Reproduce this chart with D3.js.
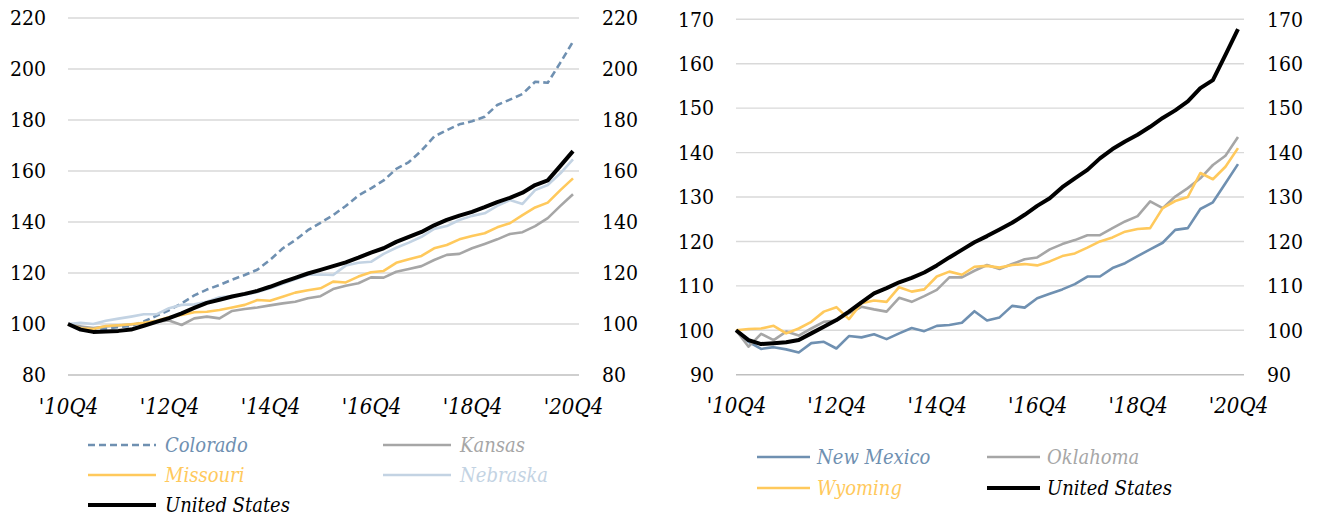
<!DOCTYPE html>
<html>
<head>
<meta charset="utf-8">
<script src="https://cdn.jsdelivr.net/npm/d3@7"></script>
<style>
  html, body { margin: 0; background: #fff; }
  svg { display: block; }
  svg text { font-family: 'DejaVu Serif Condensed', 'DejaVu Serif', serif; font-stretch: condensed; }
</style>
</head>
<body>
<div id="chart"></div>
<script>
// Quarterly index, 2010Q4 = 100

const quarters = [
  '2010Q4',
  '2011Q1', '2011Q2', '2011Q3', '2011Q4',
  '2012Q1', '2012Q2', '2012Q3', '2012Q4',
  '2013Q1', '2013Q2', '2013Q3', '2013Q4',
  '2014Q1', '2014Q2', '2014Q3', '2014Q4',
  '2015Q1', '2015Q2', '2015Q3', '2015Q4',
  '2016Q1', '2016Q2', '2016Q3', '2016Q4',
  '2017Q1', '2017Q2', '2017Q3', '2017Q4',
  '2018Q1', '2018Q2', '2018Q3', '2018Q4',
  '2019Q1', '2019Q2', '2019Q3', '2019Q4',
  '2020Q1', '2020Q2', '2020Q3', '2020Q4'
];
const tickQuarters = ['2010Q4', '2012Q4', '2014Q4', '2016Q4', '2018Q4', '2020Q4'];
const tickLabels   = ["'10Q4", "'12Q4", "'14Q4", "'16Q4", "'18Q4", "'20Q4"];

const leftTicks  = [80, 100, 120, 140, 160, 180, 200, 220];
const rightTicks = [90, 100, 110, 120, 130, 140, 150, 160, 170];

const unitedStates = [100, 97.8, 96.9, 97.1, 97.3, 97.8, 99.3, 100.8, 102.3, 104.2, 106.3, 108.3, 109.5,
  110.8, 111.8, 113.0, 114.6, 116.4, 118.1, 119.8, 121.2, 122.7, 124.2, 126.0, 128.0, 129.7, 132.2,
  134.2, 136.1, 138.7, 140.8, 142.5, 144.0, 145.8, 147.8, 149.5, 151.5, 154.5, 156.3, 162.0, 167.8];

const colorado = [100, 98.9, 97.6, 98.2, 98.8, 99.2, 101.0, 103.2, 105.4, 108.1, 111.2, 113.5, 115.3,
  117.4, 119.2, 121.3, 125.1, 129.6, 132.9, 136.8, 139.7, 142.7, 146.3, 150.4, 153.2, 156.3, 160.8,
  163.5, 168.0, 173.5, 176.0, 178.3, 179.5, 181.3, 185.9, 188.0, 190.2, 195.0, 194.6, 202.5, 210.7];

const kansas = [100, 99.0, 98.4, 99.0, 99.4, 99.8, 100.3, 100.9, 101.4, 99.6, 102.2, 102.9, 102.2,
  105.1, 105.9, 106.5, 107.3, 108.1, 108.7, 110.1, 110.9, 113.7, 115.0, 116.0, 118.3, 118.2, 120.5,
  121.6, 122.7, 125.1, 127.1, 127.5, 129.7, 131.4, 133.2, 135.3, 136.0, 138.4, 141.5, 146.3, 150.9];

const missouri = [100, 98.3, 98.0, 99.2, 99.5, 99.9, 100.5, 101.3, 102.6, 103.5, 104.6, 104.8, 105.5,
  106.5, 107.5, 109.4, 109.1, 110.7, 112.3, 113.2, 114.0, 116.6, 116.3, 118.6, 120.3, 120.8, 124.0,
  125.4, 126.7, 129.7, 131.0, 133.2, 134.5, 135.6, 137.9, 139.5, 142.7, 145.7, 147.6, 152.5, 157.1];

const nebraska = [100, 100.5, 100.0, 101.3, 102.1, 102.9, 103.8, 103.8, 106.2, 107.5, 107.7, 108.7, 110.5,
  111.0, 111.5, 112.5, 114.0, 115.8, 117.5, 119.3, 119.4, 119.2, 122.9, 124.0, 124.4, 127.5, 129.9,
  131.9, 134.2, 137.3, 138.4, 140.8, 142.4, 143.4, 146.3, 148.6, 147.1, 152.5, 154.5, 159.1, 164.6];

const newMexico = [100, 97.4, 95.8, 96.2, 95.7, 95.0, 97.1, 97.4, 95.9, 98.7, 98.4, 99.1, 98.0,
  99.3, 100.5, 99.8, 101.0, 101.2, 101.7, 104.3, 102.2, 102.9, 105.5, 105.1, 107.2, 108.2, 109.2,
  110.4, 112.1, 112.1, 114.0, 115.1, 116.7, 118.2, 119.7, 122.6, 123.0, 127.3, 128.8, 133.1, 137.4];

const oklahoma = [100, 96.3, 99.2, 97.8, 99.7, 98.8, 100.4, 101.9, 102.2, 103.8, 105.3, 104.7, 104.2,
  107.3, 106.4, 107.7, 109.1, 111.9, 111.9, 113.4, 114.7, 113.8, 114.9, 116.0, 116.4, 118.2, 119.4,
  120.3, 121.4, 121.4, 123.0, 124.5, 125.7, 129.0, 127.5, 130.1, 132.0, 134.2, 137.2, 139.3, 143.5];

const wyoming = [100, 100.3, 100.4, 101.0, 99.3, 100.4, 101.9, 104.2, 105.2, 102.5, 106.1, 106.7, 106.4,
  109.7, 108.7, 109.2, 112.1, 113.2, 112.5, 114.3, 114.5, 114.1, 114.7, 114.9, 114.6, 115.5, 116.7,
  117.3, 118.6, 120.0, 120.9, 122.2, 122.8, 123.0, 127.5, 129.1, 130.0, 135.4, 134.0, 136.8, 141.0];

const BLUE = '#6F90B1', GRAY = '#A6A6A6', GOLD = '#FFC95C', PALE = '#C3D3E3', BLACK = '#000';

const svg = d3.select('#chart').append('svg')
  .attr('width', 1319).attr('height', 517)
  .attr('xmlns', 'http://www.w3.org/2000/svg');

function drawPanel(p) {
  const x = d3.scalePoint().domain(quarters).range([p.x0, p.x1]);
  const y = d3.scaleLinear().domain([p.ticks[0], p.ticks[p.ticks.length - 1]]).range([p.yBottom, p.yTop]);
  const g = svg.append('g');

  // gridlines (bottom one is the axis line, a bit darker)
  g.selectAll('line.grid').data(p.ticks).enter().append('line')
    .attr('x1', p.x0).attr('x2', p.gridEnd)
    .attr('y1', d => y(d)).attr('y2', d => y(d))
    .attr('stroke', (d, i) => i === 0 ? '#BFBFBF' : '#D9D9D9')
    .attr('stroke-width', 1.4);

  // y axes on both sides
  const yl = g.append('g').attr('transform', `translate(${p.x0},0)`)
    .call(d3.axisLeft(y).tickValues(p.ticks).tickSize(0).tickPadding(22));
  const yr = g.append('g').attr('transform', `translate(${p.gridEnd},0)`)
    .call(d3.axisRight(y).tickValues(p.ticks).tickSize(0).tickPadding(23));
  [yl, yr].forEach(a => {
    a.attr('font-family', null).attr('font-size', null);
    a.select('.domain').remove();
    a.selectAll('text').style('font-size', '21px').attr('fill', '#000');
  });

  // x axis labels
  const xa = g.append('g').attr('transform', `translate(0,${p.yBottom})`)
    .call(d3.axisBottom(x).tickValues(tickQuarters).tickSize(0).tickPadding(23)
      .tickFormat(d => tickLabels[tickQuarters.indexOf(d)]));
  xa.attr('font-family', null).attr('font-size', null);
  xa.select('.domain').remove();
  xa.selectAll('text').style('font-style', 'italic').style('font-size', '22px').attr('fill', '#000');

  // lines
  const line = d3.line().x((d, i) => x(quarters[i])).y(d => y(d));
  p.series.forEach(s => {
    g.append('path').datum(s.values)
      .attr('d', line)
      .attr('fill', 'none')
      .attr('stroke', s.color)
      .attr('stroke-width', s.width)
      .attr('stroke-dasharray', s.dash || null)
      .attr('stroke-linejoin', 'round');
  });

  // legend
  const lg = g.append('g');
  p.legend.forEach((name, k) => {
    const s = p.series.find(d => d.name === name);
    const lx = p.legendCols[k % 2], ly = p.legendRows[Math.floor(k / 2)];
    lg.append('line')
      .attr('x1', lx).attr('x2', lx + p.swatch)
      .attr('y1', ly).attr('y2', ly)
      .attr('stroke', s.color).attr('stroke-width', s.width)
      .attr('stroke-dasharray', s.dash || null);
    lg.append('text')
      .attr('x', lx + p.swatch + p.textGap).attr('y', ly).attr('dy', '0.35em')
      .style('font-style', 'italic').style('font-size', '20px')
      .attr('fill', s.color)
      .text(name);
  });
}

drawPanel({
  x0: 68, x1: 573, gridEnd: 579,
  yBottom: 375, yTop: 18,
  ticks: leftTicks,
  series: [
    { name: 'Colorado', values: colorado, color: BLUE, width: 2.6, dash: '7,4' },
    { name: 'Kansas', values: kansas, color: GRAY, width: 2.6 },
    { name: 'Missouri', values: missouri, color: GOLD, width: 2.6 },
    { name: 'Nebraska', values: nebraska, color: PALE, width: 2.6 },
    { name: 'United States', values: unitedStates, color: BLACK, width: 4 }
  ],
  legend: ['Colorado', 'Kansas', 'Missouri', 'Nebraska', 'United States'],
  legendCols: [88, 383], legendRows: [445, 475, 505], swatch: 68, textGap: 9
});

drawPanel({
  x0: 736, x1: 1238, gridEnd: 1244,
  yBottom: 374.7, yTop: 19.3,
  ticks: rightTicks,
  series: [
    { name: 'New Mexico', values: newMexico, color: BLUE, width: 2.6 },
    { name: 'Oklahoma', values: oklahoma, color: GRAY, width: 2.6 },
    { name: 'Wyoming', values: wyoming, color: GOLD, width: 2.6 },
    { name: 'United States', values: unitedStates, color: BLACK, width: 4 }
  ],
  legend: ['New Mexico', 'Oklahoma', 'Wyoming', 'United States'],
  legendCols: [757, 987], legendRows: [457, 488], swatch: 53, textGap: 7
});
</script>
</body>
</html>
